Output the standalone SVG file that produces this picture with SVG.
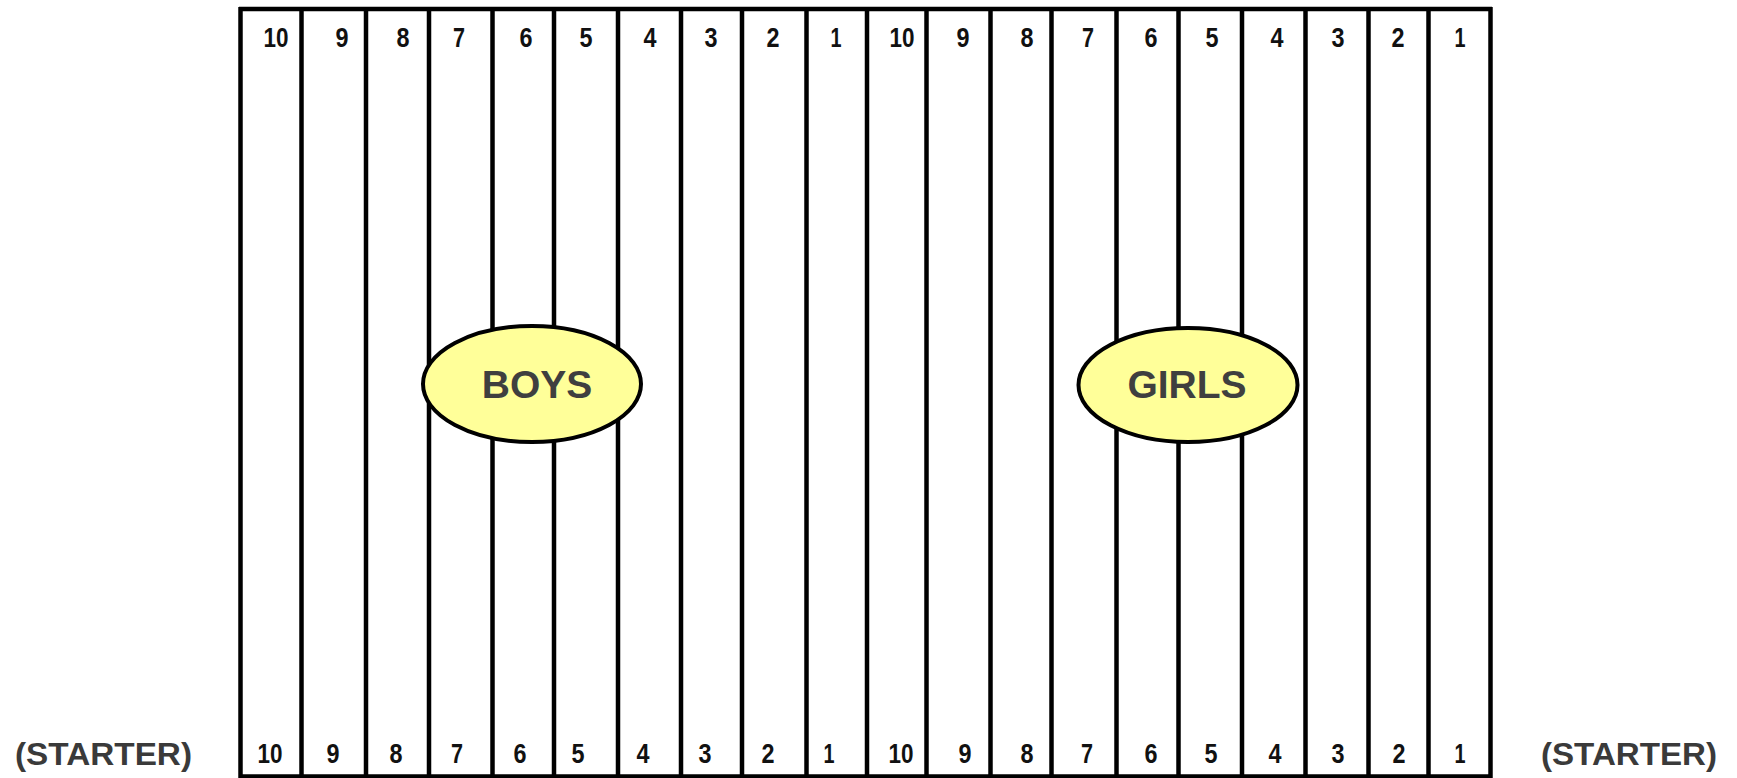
<svg xmlns="http://www.w3.org/2000/svg" width="1737" height="778" viewBox="0 0 1737 778">
<style>
.ln{stroke:#000;stroke-width:4.5;fill:none}
.num{font-family:"Liberation Sans",Arial,sans-serif;font-weight:bold;font-size:28px;fill:#111;text-anchor:middle}
.big{font-family:"Liberation Sans",Arial,sans-serif;font-weight:bold;font-size:39px;fill:#3f3f3f;text-anchor:middle}
.st{font-family:"Liberation Sans",Arial,sans-serif;font-weight:bold;font-size:31px;fill:#3a3a3a}
.oval{fill:#ffff99;stroke:#000;stroke-width:4}
</style>
<rect width="1737" height="778" fill="#fff"/>
<g id="grid">
<line class="ln" x1="239" y1="9" x2="1492" y2="9" stroke-width="4"/>
<line class="ln" x1="239" y1="776.5" x2="1492" y2="776.5" stroke-width="3"/>
<line class="ln" x1="240.5" y1="7" x2="240.5" y2="778" stroke-width="5"/>
<line class="ln" x1="1490.5" y1="7" x2="1490.5" y2="778" stroke-width="5"/>
<line class="ln" x1="301.5" y1="9" x2="301.5" y2="777"/>
<line class="ln" x1="366" y1="9" x2="366" y2="777"/>
<line class="ln" x1="429" y1="9" x2="429" y2="777"/>
<line class="ln" x1="492.5" y1="9" x2="492.5" y2="777"/>
<line class="ln" x1="554" y1="9" x2="554" y2="777"/>
<line class="ln" x1="618" y1="9" x2="618" y2="777"/>
<line class="ln" x1="681" y1="9" x2="681" y2="777" stroke-width="4"/>
<line class="ln" x1="742" y1="9" x2="742" y2="777"/>
<line class="ln" x1="806.5" y1="9" x2="806.5" y2="777" stroke-width="4"/>
<line class="ln" x1="867" y1="9" x2="867" y2="777" stroke-width="10"/>
<line class="ln" x1="926.5" y1="9" x2="926.5" y2="777" stroke-width="4"/>
<line class="ln" x1="990.5" y1="9" x2="990.5" y2="777"/>
<line class="ln" x1="1051.5" y1="9" x2="1051.5" y2="777" stroke-width="4"/>
<line class="ln" x1="1116.5" y1="9" x2="1116.5" y2="777"/>
<line class="ln" x1="1178.5" y1="9" x2="1178.5" y2="777" stroke-width="4"/>
<line class="ln" x1="1242" y1="9" x2="1242" y2="777"/>
<line class="ln" x1="1305.5" y1="9" x2="1305.5" y2="777" stroke-width="4"/>
<line class="ln" x1="1368.5" y1="9" x2="1368.5" y2="777"/>
<line class="ln" x1="1428.5" y1="9" x2="1428.5" y2="777" stroke-width="4"/>
</g>
<g id="top-numbers">
<text class="num" x="276" y="47" textLength="25" lengthAdjust="spacingAndGlyphs">10</text>
<text class="num" x="342" y="47" textLength="13" lengthAdjust="spacingAndGlyphs">9</text>
<text class="num" x="403" y="47" textLength="13" lengthAdjust="spacingAndGlyphs">8</text>
<text class="num" x="459" y="47" textLength="12" lengthAdjust="spacingAndGlyphs">7</text>
<text class="num" x="526" y="47" textLength="13" lengthAdjust="spacingAndGlyphs">6</text>
<text class="num" x="586" y="47" textLength="13" lengthAdjust="spacingAndGlyphs">5</text>
<text class="num" x="650" y="47" textLength="13" lengthAdjust="spacingAndGlyphs">4</text>
<text class="num" x="711" y="47" textLength="13" lengthAdjust="spacingAndGlyphs">3</text>
<text class="num" x="773" y="47" textLength="13" lengthAdjust="spacingAndGlyphs">2</text>
<text class="num" x="836" y="47" textLength="11" lengthAdjust="spacingAndGlyphs">1</text>
<text class="num" x="902" y="47" textLength="25" lengthAdjust="spacingAndGlyphs">10</text>
<text class="num" x="963" y="47" textLength="13" lengthAdjust="spacingAndGlyphs">9</text>
<text class="num" x="1027" y="47" textLength="13" lengthAdjust="spacingAndGlyphs">8</text>
<text class="num" x="1088" y="47" textLength="12" lengthAdjust="spacingAndGlyphs">7</text>
<text class="num" x="1151" y="47" textLength="13" lengthAdjust="spacingAndGlyphs">6</text>
<text class="num" x="1212" y="47" textLength="13" lengthAdjust="spacingAndGlyphs">5</text>
<text class="num" x="1277" y="47" textLength="13" lengthAdjust="spacingAndGlyphs">4</text>
<text class="num" x="1338" y="47" textLength="13" lengthAdjust="spacingAndGlyphs">3</text>
<text class="num" x="1398" y="47" textLength="13" lengthAdjust="spacingAndGlyphs">2</text>
<text class="num" x="1460" y="47" textLength="11" lengthAdjust="spacingAndGlyphs">1</text>
</g>
<g id="bottom-numbers">
<text class="num" x="270" y="763" textLength="25" lengthAdjust="spacingAndGlyphs">10</text>
<text class="num" x="333" y="763" textLength="13" lengthAdjust="spacingAndGlyphs">9</text>
<text class="num" x="396" y="763" textLength="13" lengthAdjust="spacingAndGlyphs">8</text>
<text class="num" x="457" y="763" textLength="12" lengthAdjust="spacingAndGlyphs">7</text>
<text class="num" x="520" y="763" textLength="13" lengthAdjust="spacingAndGlyphs">6</text>
<text class="num" x="578" y="763" textLength="13" lengthAdjust="spacingAndGlyphs">5</text>
<text class="num" x="643" y="763" textLength="13" lengthAdjust="spacingAndGlyphs">4</text>
<text class="num" x="705" y="763" textLength="13" lengthAdjust="spacingAndGlyphs">3</text>
<text class="num" x="768" y="763" textLength="13" lengthAdjust="spacingAndGlyphs">2</text>
<text class="num" x="829" y="763" textLength="11" lengthAdjust="spacingAndGlyphs">1</text>
<text class="num" x="901" y="763" textLength="25" lengthAdjust="spacingAndGlyphs">10</text>
<text class="num" x="965" y="763" textLength="13" lengthAdjust="spacingAndGlyphs">9</text>
<text class="num" x="1027" y="763" textLength="13" lengthAdjust="spacingAndGlyphs">8</text>
<text class="num" x="1087" y="763" textLength="12" lengthAdjust="spacingAndGlyphs">7</text>
<text class="num" x="1151" y="763" textLength="13" lengthAdjust="spacingAndGlyphs">6</text>
<text class="num" x="1211" y="763" textLength="13" lengthAdjust="spacingAndGlyphs">5</text>
<text class="num" x="1275" y="763" textLength="13" lengthAdjust="spacingAndGlyphs">4</text>
<text class="num" x="1338" y="763" textLength="13" lengthAdjust="spacingAndGlyphs">3</text>
<text class="num" x="1399" y="763" textLength="13" lengthAdjust="spacingAndGlyphs">2</text>
<text class="num" x="1460" y="763" textLength="11" lengthAdjust="spacingAndGlyphs">1</text>
</g>
<g id="boys">
<ellipse class="oval" cx="532" cy="384" rx="109" ry="58"/>
<text class="big" x="537" y="398">BOYS</text>
</g>
<g id="girls">
<ellipse class="oval" cx="1188" cy="385" rx="109.5" ry="57"/>
<text class="big" x="1187" y="398">GIRLS</text>
</g>
<g id="starter-left">
<text class="st" x="15" y="765" textLength="177" lengthAdjust="spacingAndGlyphs">(STARTER)</text>
</g>
<g id="starter-right">
<text class="st" x="1541" y="765" textLength="176" lengthAdjust="spacingAndGlyphs">(STARTER)</text>
</g>
</svg>
